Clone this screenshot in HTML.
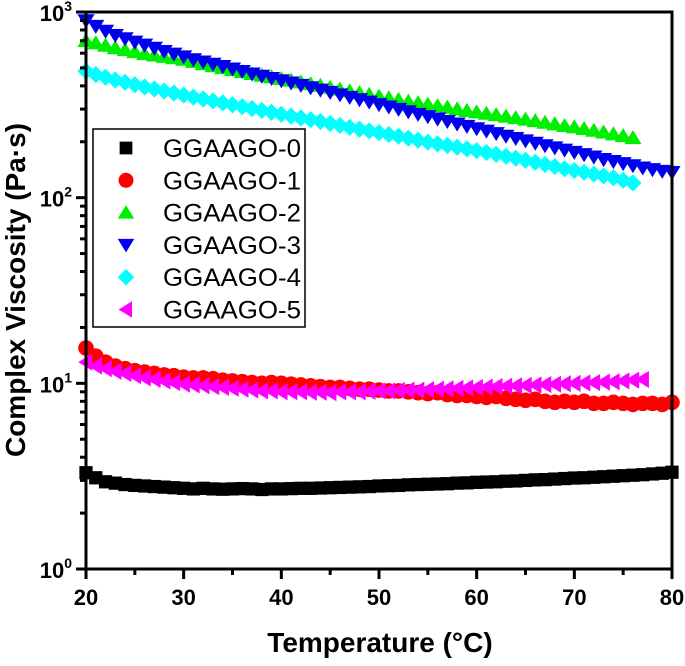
<!DOCTYPE html>
<html><head><meta charset="utf-8"><style>
body{margin:0;background:#fff;}
svg text{font-family:"Liberation Sans",Arial,sans-serif;}
</style></head><body>
<svg id="chart" width="685" height="661" xmlns="http://www.w3.org/2000/svg">
<g id="marks"></g>
<g id="axes"></g>
</svg>
<script>
const xTicks=[20,30,40,50,60,70,80];
const yDecades=[0,1,2,3];
const seriesNames=["GGAAGO-0","GGAAGO-1","GGAAGO-2","GGAAGO-3","GGAAGO-4","GGAAGO-5"];
const seriesColors=["#000000","#ff0000","#00ee00","#0000ee","#00ffff","#ff00ff"];
const startT=20;
const s0=[3.3,3.1,2.95,2.9,2.85,2.82,2.8,2.78,2.76,2.74,2.72,2.7,2.72,2.7,2.69,2.7,2.71,2.7,2.68,2.7,2.7,2.71,2.72,2.72,2.73,2.74,2.75,2.76,2.77,2.78,2.8,2.81,2.82,2.84,2.85,2.86,2.87,2.88,2.9,2.91,2.93,2.94,2.95,2.97,2.98,3.0,3.02,3.03,3.05,3.07,3.09,3.1,3.12,3.14,3.16,3.18,3.2,3.22,3.25,3.28,3.32];
const s1=[15.5,14,13,12.4,12,11.7,11.5,11.3,11.1,11,10.8,10.7,10.7,10.6,10.4,10.3,10.2,10.1,10,10.1,10,9.9,9.8,9.7,9.6,9.5,9.5,9.4,9.3,9.3,9.2,9.1,9.1,9,8.9,8.8,8.9,8.7,8.6,8.6,8.5,8.4,8.5,8.3,8.2,8.1,8.2,8.0,7.9,8.0,7.9,8.0,7.8,7.8,7.9,7.8,7.7,7.8,7.8,7.7,7.9];
const s2=[700,680,660,640,625,610,595,585,575,565,555,540,525,512,500,488,476,465,455,446,437,428,419,410,401,392,383,375,367,359,351,344,337,330,324,318,312,306,300,294,289,284,279,274,269,264,259,254,249,244,240,235,230,225,220,215,210];
const s3=[900,840,790,750,720,690,665,640,615,595,575,555,540,525,510,495,480,465,452,440,428,416,404,392,381,370,359,348,338,328,318,309,300,291,282,274,266,258,250,243,236,229,222,215,209,203,197,191,186,181,176,171,166,161,157,153,149,145,142,139,137];
const s4=[480,460,445,430,418,406,395,385,375,366,357,348,340,332,324,316,309,302,295,288,281,275,269,263,257,251,245,239,234,229,224,219,214,209,204,199,195,191,187,183,179,175,171,167,163,159,155,151,147,143,140,137,134,131,128,124,120];
const s5=[13,12.4,12,11.6,11.3,11,10.7,10.5,10.3,10.1,9.9,9.8,9.7,9.6,9.5,9.4,9.3,9.2,9.1,9.1,9.0,9.0,9.0,8.95,8.95,8.9,9.0,9.0,9.0,9.05,9.1,9.1,9.15,9.2,9.2,9.25,9.3,9.35,9.4,9.45,9.5,9.55,9.6,9.65,9.7,9.75,9.8,9.85,9.9,9.95,10,10.05,10.1,10.15,10.2,10.3,10.4,10.5];
const allSeries=[s0,s1,s2,s3,s4,s5];

const L=86,R=672,T=12,B=569;
function xs(v){return L+(v-20)/60*(R-L);}
function ys(v){return B-Math.log10(v)/3*(B-T);}
const NS="http://www.w3.org/2000/svg";
function mk(tag,attrs,parent){const e=document.createElementNS(NS,tag);for(const k in attrs)e.setAttribute(k,attrs[k]);parent.appendChild(e);return e;}
function marker(kind,cx,cy,col,parent,s){
  let e;
  if(kind===0)e=mk('rect',{x:cx-s*0.85,y:cy-s*0.85,width:s*1.7,height:s*1.7,fill:col},parent);
  else if(kind===1)e=mk('circle',{cx:cx,cy:cy,r:s,fill:col},parent);
  else if(kind===2)e=mk('polygon',{points:`${cx},${cy-s} ${cx-s*1.1},${cy+s*0.8} ${cx+s*1.1},${cy+s*0.8}`,fill:col},parent);
  else if(kind===3)e=mk('polygon',{points:`${cx},${cy+s} ${cx-s*1.1},${cy-s*0.8} ${cx+s*1.1},${cy-s*0.8}`,fill:col},parent);
  else if(kind===4)e=mk('polygon',{points:`${cx},${cy-s*1.1} ${cx+s*1.1},${cy} ${cx},${cy+s*1.1} ${cx-s*1.1},${cy}`,fill:col},parent);
  else e=mk('polygon',{points:`${cx-s},${cy} ${cx+s*0.8},${cy-s*1.1} ${cx+s*0.8},${cy+s*1.1}`,fill:col},parent);
  return e;
}
const marks=document.getElementById('marks');
allSeries.forEach((arr,si)=>{
  const g=mk('g',{},marks);
  
  
  arr.forEach((v,i)=>{
    const p=marker(si,xs(startT+i),ys(v),seriesColors[si],g,7.8);
    
    
  });
});
const ax=document.getElementById('axes');
const frame=mk('rect',{x:L,y:T,width:R-L,height:B-T,fill:'none',stroke:'#000','stroke-width':3},ax);


xTicks.forEach(t=>{
  mk('line',{x1:xs(t),x2:xs(t),y1:B,y2:B+10,stroke:'#000','stroke-width':3},ax);
  const tx=mk('text',{x:xs(t),y:B+36,'text-anchor':'middle','font-size':22,'font-weight':'bold'},ax);
  tx.textContent=t;
  
  
  if(t<80)mk('line',{x1:xs(t+5),x2:xs(t+5),y1:B,y2:B+6,stroke:'#000','stroke-width':3},ax);
});
yDecades.forEach(d=>{
  const y=ys(Math.pow(10,d));
  mk('line',{x1:L-10,x2:L,y1:y,y2:y,stroke:'#000','stroke-width':3},ax);
  const tx=mk('text',{x:L-14,y:y+9,'text-anchor':'end','font-size':22,'font-weight':'bold'},ax);
  
  
  tx.innerHTML='10<tspan dy="-10" font-size="14">'+d+'</tspan>';
  if(d<3)for(let m=2;m<10;m++){const ym=ys(m*Math.pow(10,d));mk('line',{x1:L-6,x2:L,y1:ym,y2:ym,stroke:'#000','stroke-width':3},ax);}
});
const xt=mk('text',{x:380,y:652,'text-anchor':'middle','font-size':28,'font-weight':'bold'},ax);
xt.textContent='Temperature (°C)';


const yt=mk('text',{x:0,y:0,'text-anchor':'middle','font-size':28,'font-weight':'bold',transform:'translate(25,290) rotate(-90)'},ax);
yt.textContent='Complex Viscosity (Pa·s)';


const lg=mk('g',{},ax);


mk('rect',{x:93,y:129,width:212,height:198,fill:'#fff',stroke:'#000','stroke-width':1.5},lg);
seriesNames.forEach((n,i)=>{
  const y=148+i*32.3;
  const e=mk('g',{},lg);
  
  
  marker(i,126,y,seriesColors[i],e,7.5);
  const t=mk('text',{x:163,y:y+9,'font-size':25,textLength:138,lengthAdjust:'spacingAndGlyphs'},e);
  t.textContent=n;
});
</script>
</body></html>
